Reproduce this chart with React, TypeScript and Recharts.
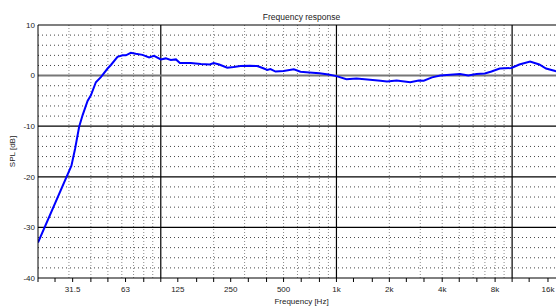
import { LineChart, Line, XAxis, YAxis, ReferenceLine, Label } from "recharts"

// frequency response
const freqs = [
  20, 31, 32.5, 34.3, 35.9, 38.3, 40, 42.7, 45.6, 49.8, 52, 56.7, 60.6, 63.3, 67.5, 72, 78.7, 85.8, 91.6,
  100, 106.8, 114, 122, 128.5, 148, 169, 190, 200, 215, 239, 260, 284, 320, 354, 380, 404, 421, 450, 500,
  572, 624, 700, 800, 900, 1000, 1140, 1300, 1500, 1780, 1940, 2200, 2630, 2940, 3140, 3500, 3900, 4440,
  5050, 5630, 6270, 6990, 7630, 8500, 9900, 11000, 12660, 14280, 15600, 17600, 20000,
]
const spl = [
  -33.0, -17.8, -14.5, -10.1, -7.8, -5.0, -3.9, -1.3, -0.3, 1.4, 2.1, 3.7, 4.0, 4.0, 4.5, 4.3, 4.1, 3.6, 3.9,
  3.2, 3.4, 3.1, 3.2, 2.5, 2.5, 2.3, 2.2, 2.5, 2.2, 1.55, 1.7, 1.9, 1.95, 1.9, 1.5, 1.1, 1.3, 0.8, 0.9,
  1.25, 0.75, 0.6, 0.45, 0.2, -0.1, -0.7, -0.55, -0.75, -1.0, -1.15, -0.95, -1.3, -0.95, -1.0, -0.35, 0.0, 0.15,
  0.3, 0.0, 0.3, 0.4, 0.8, 1.4, 1.5, 2.2, 2.8, 2.2, 1.4, 0.9, 0.6,
]

const xTicks = [
  20, 25, 31.5, 40, 50, 63, 80, 100, 125, 160, 200, 250, 315, 400, 500, 630, 800, 1000, 1250, 1600, 2000,
  2500, 3150, 4000, 5000, 6300, 8000, 10000, 12500, 16000, 20000,
]
const xLabels: Record<number, string> = {
  31.5: "31.5", 63: "63", 125: "125", 250: "250", 500: "500",
  1000: "1k", 2000: "2k", 4000: "4k", 8000: "8k", 16000: "16k",
}
const yTicks = [-40, -30, -20, -10, 0, 10]

const majorX = [100, 1000, 10000]
const minorX = [
  30, 40, 50, 60, 70, 80, 90, 200, 300, 400, 500, 600, 700, 800, 900,
  2000, 3000, 4000, 5000, 6000, 7000, 8000, 9000,
]
const majorY = [-30, -20, -10]
const minorY = [-38, -36, -34, -32, -28, -26, -24, -22, -18, -16, -14, -12, -8, -6, -4, -2, 2, 4, 6, 8]

const data = freqs.map((f, i) => ({ f, spl: spl[i] }))

const font = "'Liberation Sans', Arial, sans-serif"
const tickStyle = { fill: "#222", fontSize: 8, fontFamily: font }

export default function App() {
  return (
    <div style={{ position: "fixed", left: 0, top: 0, width: 556, height: 307, overflow: "hidden", background: "#fff" }}>
      <LineChart width={600} height={307} data={data} margin={{ top: 25, right: 35, left: 0, bottom: 0 }}>
        <XAxis
          dataKey="f"
          type="number"
          scale="log"
          domain={[20, 20000]}
          allowDataOverflow
          ticks={xTicks}
          interval={0}
          tickFormatter={(v: number) => xLabels[v] ?? ""}
          tick={tickStyle}
          tickSize={4}
          tickMargin={4}
          height={29}
          stroke="#000"
          tickLine={{ stroke: "#000" }}
        >
          <Label
            value="Frequency [Hz]"
            position="insideBottom"
            offset={3}
            style={{ fill: "#222", fontSize: 8, fontFamily: font }}
          />
        </XAxis>
        <YAxis
          type="number"
          domain={[-40, 10]}
          ticks={yTicks}
          interval={0}
          tick={tickStyle}
          tickSize={0}
          tickMargin={3}
          width={38}
          stroke="#000"
        >
          <Label
            content={(p: any) => {
              const vb = p.viewBox || { x: 0, y: 25, width: 38, height: 253 }
              const x = vb.x + 13
              const y = vb.y + vb.height / 2
              return (
                <text
                  x={x}
                  y={y}
                  transform={`rotate(-90, ${x}, ${y})`}
                  textAnchor="middle"
                  dominantBaseline="middle"
                  style={{ fill: "#222", fontSize: 8, fontFamily: font }}
                >
                  SPL [dB]
                </text>
              )
            }}
          />
        </YAxis>

        {minorX.map((v) => (
          <ReferenceLine key={"mx" + v} x={v} stroke="#8a8a8a" strokeDasharray="1 2" />
        ))}
        {minorY.map((v) => (
          <ReferenceLine key={"my" + v} y={v} stroke="#444" strokeDasharray="1 3" />
        ))}
        {majorX.map((v) => (
          <ReferenceLine key={"MX" + v} x={v} stroke="#000" strokeWidth={1.2} />
        ))}
        {majorY.map((v) => (
          <ReferenceLine key={"MY" + v} y={v} stroke="#000" strokeWidth={1.2} />
        ))}
        <ReferenceLine y={0} stroke="#777" strokeWidth={2} />
        <ReferenceLine y={10} stroke="#000" strokeWidth={1.2}>
          <Label
            value="Frequency response"
            position="top"
            offset={5}
            style={{ fill: "#222", fontSize: 8.5, fontFamily: font }}
          />
        </ReferenceLine>

        <Line
          dataKey="spl"
          type="linear"
          stroke="#0000ff"
          strokeWidth={2}
          dot={false}
          isAnimationActive={false}
        />
      </LineChart>
    </div>
  )
}
